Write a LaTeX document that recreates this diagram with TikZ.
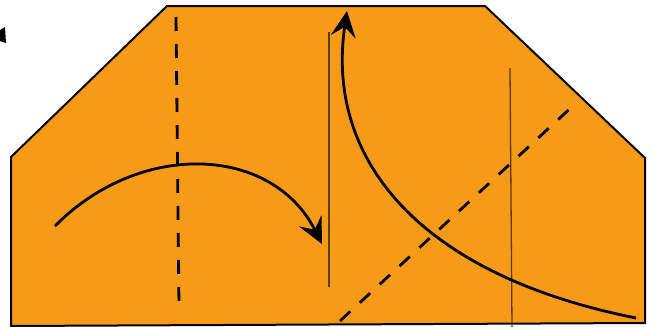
\documentclass[tikz,border=0pt]{standalone}
\usetikzlibrary{arrows.meta}
\definecolor{paper}{RGB}{247,154,23}
\definecolor{thin}{RGB}{90,60,20}
\tikzset{
  sheet/.style={fill=paper,draw=black,line width=2pt,line join=miter},
  fold/.style={line width=2.8pt,dash pattern=on 14pt off 13pt},
  crease/.style={draw=thin,line width=1.3pt},
  move/.style={line width=2.8pt,-{Stealth[length=26pt,width=25pt,inset=10pt]}}
}
\begin{document}
\begin{tikzpicture}[x=1pt,y=-1pt]
\useasboundingbox (0,0) rectangle (654,327);
\coordinate (tl) at (167,6);
\coordinate (tr) at (485,6);
\coordinate (rs) at (645,158);
\coordinate (br) at (645,323);
\coordinate (bl) at (11,326);
\coordinate (ls) at (11,157);
\draw[sheet] (tl) -- (tr) -- (rs) -- (br) -- (bl) -- (ls) -- cycle;
% valley folds
\coordinate (v1a) at (176,17);
\coordinate (v1b) at (179,307);
\draw[fold] (v1a) -- (v1b);
\coordinate (v2a) at (340,321);
\coordinate (v2b) at (575,104);
\draw[fold] (v2a) -- (v2b);
% thin creases
\coordinate (c1a) at (329,32);
\coordinate (c1b) at (329,287);
\draw[crease] (c1a) -- (c1b);
\coordinate (c2a) at (510,68);
\coordinate (c2b) at (512,327);
\draw[crease] (c2a) -- (c2b);
% arrows
\coordinate (a1s) at (55,226);
\coordinate (a1e) at (322,244);
\draw[move] (a1s) .. controls (140,140) and (272,145) .. (a1e);
\coordinate (a2s) at (636,318);
\coordinate (a2e) at (347,11);
\draw[move] (a2s) .. controls (420,275) and (325,160) .. (a2e);
% stray mark
\fill (0,30) -- (5,27) -- (6,43) -- (0,41) -- cycle;
\end{tikzpicture}
\end{document}
